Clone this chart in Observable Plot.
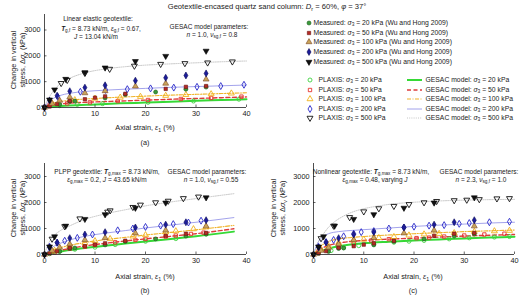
<!DOCTYPE html>
<html>
<head>
<meta charset="utf-8">
<script src="https://cdn.jsdelivr.net/npm/d3@7"></script>
<script src="https://cdn.jsdelivr.net/npm/@observablehq/plot@0.6"></script>
<style>
  body { margin: 0; background: #fff; }
  #fig { position: relative; width: 520px; height: 295px; overflow: hidden;
         font-family: "Liberation Sans", Arial, sans-serif; color: #1a1a1a; }
  .t { position: absolute; white-space: nowrap; line-height: 1; font-size: 6.5px; }
  .c { transform: translate(-50%, -50%); }
  .l { transform: translate(0, -50%); }
  .ylab { transform: translate(-50%, -50%) rotate(-90deg); text-align: center; line-height: 9px; font-size: 7.3px; }
  sub { font-size: 0.72em; vertical-align: -0.3em; line-height: 0; }
  .panel { position: absolute; }
  .panel svg { overflow: visible; }
</style>
</head>
<body>
<div id="fig"></div>
<script>
// Axis ticks
const strainTicks = [0, 10, 20, 30, 40];
const stressTicks = [0, 1000, 2000, 3000];
const confining = [20, 50, 100, 200, 500]; // kPa

// Measured triaxial results (Wu and Hong 2009): [axial strain %, change in vertical stress kPa]
const measured20  = [[0,0],[3,120],[5,230],[6,250],[12,370],[16,500],[22,600],[28,710],[32,790]];
const measured50  = [[0,0],[1,40],[2.5,130],[5,260],[8,320],[10,380],[12,430],[16,530],[24,720],[28,800],[32,830]];
const measured100 = [[0,0],[1.5,150],[3,270],[5,400],[8,560],[12,640],[18,820],[24,930],[32,1090]];
const measured200 = [[0,0],[1,270],[2.5,460],[5,630],[8,770],[12,860],[18,1040],[24,1150],[28,1240],[32,1320]];
const measured500 = [[0,0],[1,300],[2,690],[4.2,1100],[8,1360],[12,1540],[18,1790],[24,1990],[32,2190]];

// (a) Linear elastic geotextile — PLAXIS
const plaxisA20  = [[0,0],[3,70],[6.5,120],[11.5,150],[20.5,200],[29.5,250],[38.5,320]];
const plaxisA50  = [[1,80],[4.5,160],[9,200],[14.5,250],[20.5,290],[27,330],[33,370],[39,420]];
const plaxisA100 = [[1.5,170],[6,290],[10,350],[15,390],[19,420],[24,460],[28,490],[33,520],[37,550]];
const plaxisA200 = [[0,0],[2.6,420],[7.1,610],[12.1,680],[16.4,710],[21,740],[25.6,770],[30.2,800],[34.9,830],[39.5,880]];
const plaxisA500 = [[3.3,940],[4.5,1060],[8,1330],[12.9,1490],[17.8,1610],[23,1680],[27.8,1710],[32.3,1735],[37.2,1775]];
// (a) GESAC model
const gesacA20  = [[0,0],[2,40],[5,80],[10,120],[15,160],[20,190],[25,220],[30,260],[35,290],[40,320]];
const gesacA50  = [[0,0],[1,70],[2,110],[5,170],[10,215],[15,250],[20,285],[25,320],[30,350],[35,380],[40,410]];
const gesacA100 = [[0,0],[1,110],[2,180],[5,280],[10,350],[15,400],[20,440],[25,480],[30,510],[35,540],[40,570]];
const gesacA200 = [[0,0],[0.5,150],[1,250],[2,380],[3,460],[5,550],[8,620],[12,670],[16,710],[20,740],[25,780],[30,810],[35,840],[40,870]];
const gesacA500 = [[0,0],[0.5,250],[1,420],[2,700],[3,900],[5,1130],[8,1340],[12,1490],[16,1580],[20,1640],[25,1690],[30,1730],[35,1770],[40,1800]];

// (b) PLPP geotextile — PLAXIS
const plaxisB20  = [[1,30],[3,120],[6,200],[10,280],[14,380],[20,510],[26,610],[32,780]];
const plaxisB50  = [[2,80],[5,220],[8,300],[10,370],[14,470],[18,560],[20,600],[24,690],[26,730],[29,790],[31.5,840]];
const plaxisB100 = [[2,150],[5,330],[8,450],[10,520],[13,600],[17.5,700],[20,750],[24,860],[26,900],[29.5,980],[32,1050]];
const plaxisB200 = [[1,300],[2.5,450],[4,530],[6.5,640],[9.5,770],[14.5,930],[17.5,1000],[20,1060],[23,1110],[25.5,1170],[28.5,1230],[31,1300]];
const plaxisB500 = [[1.5,600],[4,1080],[7,1380],[12.5,1640],[13,1690],[17.5,1820],[19,1910],[22,2000],[24.5,2060],[27.5,2160],[30.5,2220]];
// (b) GESAC model
const gesacB20  = [[0,0],[2,70],[5,170],[8,250],[12,340],[16,420],[20,500],[25,600],[30,700],[37.5,880]];
const gesacB50  = [[0,0],[2,110],[5,230],[8,330],[12,430],[16,520],[20,600],[25,700],[30,800],[37.5,990]];
const gesacB100 = [[0,0],[1,100],[2,190],[5,350],[8,460],[12,570],[16,660],[20,750],[25,850],[30,950],[37.5,1120]];
const gesacB200 = [[0,0],[1,200],[2,330],[3,420],[5,560],[8,700],[12,820],[16,920],[20,1020],[25,1130],[30,1240],[37.5,1420]];
const gesacB500 = [[0,0],[0.5,300],[1,500],[2,750],[3,900],[5,1100],[8,1350],[12,1560],[16,1720],[20,1870],[25,2020],[30,2150],[37.5,2340]];

// (c) Nonlinear geotextile — PLAXIS
const plaxisC20  = [[1,50],[3.5,150],[6,260],[9,340],[12,400],[16,470],[19,510],[22,540],[27,600],[31,640],[36,670],[39,690]];
const plaxisC50  = [[1,100],[3,220],[5,300],[8,420],[11.5,540],[15,590],[20.5,630],[23,650],[26,690],[30,730],[34,770],[38,800]];
const plaxisC100 = [[1.5,200],[3,320],[5,450],[8,550],[10,580],[13,640],[16,680],[19,740],[22,780],[25,800],[28,830],[32,880],[36,900],[39,920]];
const plaxisC200 = [[1,300],[2.5,480],[4,560],[6,700],[8,800],[9.5,860],[12,900],[15,1000],[18,1040],[20,1070],[23,1110],[26,1130],[29,1180],[31,1210],[35,1240],[39,1260]];
const plaxisC500 = [[1.5,620],[4,1100],[7.2,1430],[10,1650],[13,1770],[16,1860],[19,1930],[22,2000],[24.5,2050],[28,2080],[30.5,2100],[33,2120],[36.5,2150],[39,2160]];
// (c) GESAC model
const gesacC20  = [[0,0],[1,80],[2,170],[4,280],[6,350],[10,430],[15,490],[20,540],[25,580],[30,620],[35,650],[40,680]];
const gesacC50  = [[0,0],[1,150],[2,270],[4,400],[6,470],[10,540],[15,590],[20,630],[25,670],[30,710],[35,740],[40,770]];
const gesacC100 = [[0,0],[1,250],[2,400],[3,500],[5,600],[8,660],[12,720],[16,760],[20,800],[25,840],[30,880],[35,910],[40,940]];
const gesacC200 = [[0,0],[0.5,300],[1,500],[2,700],[3,800],[5,880],[8,930],[12,980],[16,1030],[20,1080],[25,1130],[30,1170],[35,1210],[40,1240]];
const gesacC500 = [[0,0],[1,500],[2,800],[3,1050],[4,1230],[6,1480],[8,1650],[10,1760],[13,1870],[16,1950],[20,2010],[25,2060],[30,2090],[35,2110],[40,2120]];

// Downward-pointing triangle symbol
const triangleDown = {
  draw(ctx, size) {
    const y = -Math.sqrt(size / (Math.sqrt(3) * 3));
    ctx.moveTo(0, -2 * y);
    ctx.lineTo(Math.sqrt(3) * y, y);
    ctx.lineTo(-Math.sqrt(3) * y, y);
    ctx.closePath();
  }
};

const measuredStyle = {
  20:  {symbol: "circle",   fill: "#3a9b3a", stroke: "#1d5a1d", r: 2.0},
  50:  {symbol: "square",   fill: "#b52a25", stroke: "#6b1512", r: 1.9},
  100: {symbol: "triangle", fill: "#c9a45a", stroke: "#7a4422", r: 2.2},
  200: {symbol: "diamond",  fill: "#1c1c9a", stroke: "#0c0c55", r: 2.1},
  500: {symbol: triangleDown, fill: "#111", stroke: "#000", r: 2.2}
};
const plaxisStyle = {
  20:  {symbol: "circle",   stroke: "#3fd13f", r: 2.0},
  50:  {symbol: "square",   stroke: "#e5322d", r: 1.9},
  100: {symbol: "triangle", stroke: "#f2b21c", r: 2.2},
  200: {symbol: "diamond",  stroke: "#2727c8", r: 2.1},
  500: {symbol: triangleDown, stroke: "#111", r: 2.2}
};
const gesacStyle = {
  20:  {stroke: "#36d936", width: 2},
  50:  {stroke: "#dd3b3b", width: 1.4, dash: "4,2.5"},
  100: {stroke: "#f0b32a", width: 1.1, dash: "4,1.5,1,1.5"},
  200: {stroke: "#8c8ce6", width: 0.8},
  500: {stroke: "#b8b8b8", width: 0.8, dash: "1,1.2"}
};

const measured = [measured20, measured50, measured100, measured200, measured500];
const fig = document.getElementById("fig");
const sx = d => d[0], sy = d => d[1];

function drawPanel({left, top, width, height, ml, mr, mt, mb, ymax, plaxis, gesac}) {
  const iw = width - ml - mr, ih = height - mt - mb;
  const marks = [];
  confining.forEach((p, i) => {
    const g = gesacStyle[p];
    marks.push(Plot.line(gesac[i], {x: sx, y: sy, curve: "monotone-x", stroke: g.stroke,
      strokeWidth: g.width, strokeDasharray: g.dash || null}));
  });
  confining.forEach((p, i) => {
    const s = plaxisStyle[p];
    marks.push(Plot.dot(plaxis[i], {x: sx, y: sy, symbol: () => s.symbol, r: s.r,
      fill: "none", stroke: s.stroke, strokeWidth: 0.9}));
  });
  confining.forEach((p, i) => {
    const s = measuredStyle[p];
    marks.push(Plot.dot(measured[i], {x: sx, y: sy, symbol: () => s.symbol, r: s.r,
      fill: s.fill, stroke: s.stroke, strokeWidth: 0.6}));
  });
  // axis lines and inward ticks
  marks.push(Plot.ruleX([0], {stroke: "#222", strokeWidth: 0.8}));
  marks.push(Plot.ruleY([0], {stroke: "#222", strokeWidth: 0.8}));
  marks.push(Plot.tickX(strainTicks, {x: d => d, insetTop: ih - 2.5, stroke: "#222", strokeWidth: 0.7}));
  marks.push(Plot.tickY(stressTicks, {y: d => d, insetRight: iw - 2.5, stroke: "#222", strokeWidth: 0.7}));
  const chart = Plot.plot({
    width, height, marginLeft: ml, marginRight: mr, marginTop: mt, marginBottom: mb,
    x: {domain: [0, 40], ticks: strainTicks, tickSize: 0, tickPadding: 3, label: null},
    y: {domain: [0, ymax], ticks: stressTicks, tickSize: 0, tickPadding: 4, label: null, tickFormat: d => String(d)},
    symbol: {type: "identity"},
    style: {fontFamily: '"Liberation Sans", Arial, sans-serif', fontSize: "7.3px", color: "#1a1a1a", background: "transparent"},
    marks
  });
  const div = document.createElement("div");
  div.className = "panel";
  div.style.left = left + "px";
  div.style.top = top + "px";
  div.appendChild(chart);
  fig.appendChild(div);
}

drawPanel({left: 0, top: 0, width: 260, height: 145, ml: 44, mr: 14, mt: 14, mb: 38, ymax: 3600,
  plaxis: [plaxisA20, plaxisA50, plaxisA100, plaxisA200, plaxisA500],
  gesac: [gesacA20, gesacA50, gesacA100, gesacA200, gesacA500]});
drawPanel({left: 0, top: 140, width: 260, height: 155, ml: 44, mr: 14, mt: 23, mb: 41, ymax: 3500,
  plaxis: [plaxisB20, plaxisB50, plaxisB100, plaxisB200, plaxisB500],
  gesac: [gesacB20, gesacB50, gesacB100, gesacB200, gesacB500]});
drawPanel({left: 260, top: 140, width: 260, height: 155, ml: 53, mr: 6, mt: 23, mb: 41, ymax: 3500,
  plaxis: [plaxisC20, plaxisC50, plaxisC100, plaxisC200, plaxisC500],
  gesac: [gesacC20, gesacC50, gesacC100, gesacC200, gesacC500]});

// Text: title, axis labels, annotations
function text(html, x, y, cls = "c", size) {
  const d = document.createElement("div");
  d.className = "t " + cls;
  d.style.left = x + "px";
  d.style.top = y + "px";
  if (size) d.style.fontSize = size + "px";
  d.innerHTML = html;
  fig.appendChild(d);
  return d;
}
const sig3 = "<i>σ</i><sub>3</sub>";
text("Geotextile-encased quartz sand column: <i>D</i><sub>r</sub> = 60%, <i>φ</i> = 37°", 267, 7, "c", 7.6);

const yLabel = "Change in vertical<br>stress, Δ<i>σ</i><sub>v</sub> (kPa)";
const xLabel = "Axial strain, <i>ε</i><sub>1</sub> (%)";
text(yLabel, 17.5, 60, "ylab");
text(yLabel, 17.5, 208, "ylab");
text(yLabel, 277.5, 208, "ylab");
text(xLabel, 145, 128, "c", 7.3);
text(xLabel, 145, 277, "c", 7.3);
text(xLabel, 413, 277, "c", 7.3);
text("(a)", 145, 143, "c", 7.3);
text("(b)", 145, 291, "c", 7.3);
text("(c)", 413, 291, "c", 7.3);

const Tb = "<b><i>T</i></b>";
text("Linear elastic geotextile:", 98, 18.5);
text(Tb + "<sub>g,f</sub> = 8.73 kN/m, <i>ε</i><sub>g,f</sub> = 0.67,", 101, 28.5);
text("<i>J</i> = 13.04 kN/m", 96, 37);
text("GESAC model parameters:", 209, 26.5);
text("<i>n</i> = 1.0, <i>ν</i><sub>sg,f</sub> = 0.8", 212, 34.5);

text("PLPP geotextile: " + Tb + "<sub>g,max</sub> = 8.73 kN/m,", 107, 172);
text("<i>ε</i><sub>g,max</sub> = 0.2, <i>J</i> = 43.65 kN/m", 107, 180);
text("GESAC model parameters:", 207, 172);
text("<i>n</i> = 1.0, <i>ν</i><sub>sg,f</sub> = 0.55", 211, 180);

text("Nonlinear geotextile: " + Tb + "<sub>g,max</sub> = 8.73 kN/m,", 371, 172);
text("<i>ε</i><sub>g,max</sub> = 0.48, varying <i>J</i>", 375, 180);
text("GESAC model parameters:", 479, 172);
text("<i>n</i> = 2.3, <i>ν</i><sub>sg,f</sub> = 1.0", 481, 180);

// Legend
function markerIcon(s, x, y, fill) {
  const r = s.r;
  const path = d3.symbol(typeof s.symbol === "string" ? ({circle: d3.symbolCircle, square: d3.symbolSquare,
    triangle: d3.symbolTriangle, diamond: d3.symbolDiamond})[s.symbol] : s.symbol, Math.PI * r * r)();
  const d = document.createElement("div");
  d.className = "t";
  d.style.left = (x - 5) + "px";
  d.style.top = (y - 5) + "px";
  d.innerHTML = `<svg width="10" height="10" viewBox="-5 -5 10 10" style="display:block;overflow:visible"><path d="${path}" fill="${fill}" stroke="${s.stroke}" stroke-width="${fill === "none" ? 0.9 : 0.6}"/></svg>`;
  fig.appendChild(d);
}
function lineIcon(g, x1, x2, y) {
  const d = document.createElement("div");
  d.className = "t";
  d.style.left = x1 + "px";
  d.style.top = (y - 3) + "px";
  d.innerHTML = `<svg width="${x2 - x1}" height="6" style="display:block"><line x1="0" x2="${x2 - x1}" y1="3" y2="3" stroke="${g.stroke}" stroke-width="${g.width}" ${g.dash ? `stroke-dasharray="${g.dash}"` : ""}/></svg>`;
  fig.appendChild(d);
}
const measuredRows = [23, 32.7, 42.4, 52.1, 61.8];
const modelRows = [80, 89.5, 99, 108.5, 118];
confining.forEach((p, i) => {
  markerIcon(measuredStyle[p], 308.5, measuredRows[i], measuredStyle[p].fill);
  text(`Measured: ${sig3} = ${p} kPa (Wu and Hong 2009)`, 313.5, measuredRows[i], "l", 6.8);
  markerIcon(plaxisStyle[p], 309.5, modelRows[i], "none");
  text(`PLAXIS: ${sig3} = ${p} kPa`, 318.5, modelRows[i], "l", 6.8);
  lineIcon(gesacStyle[p], 407, 422, modelRows[i]);
  text(`GESAC model: ${sig3} = ${p} kPa`, 425.5, modelRows[i], "l", 6.8);
});
</script>
</body>
</html>
